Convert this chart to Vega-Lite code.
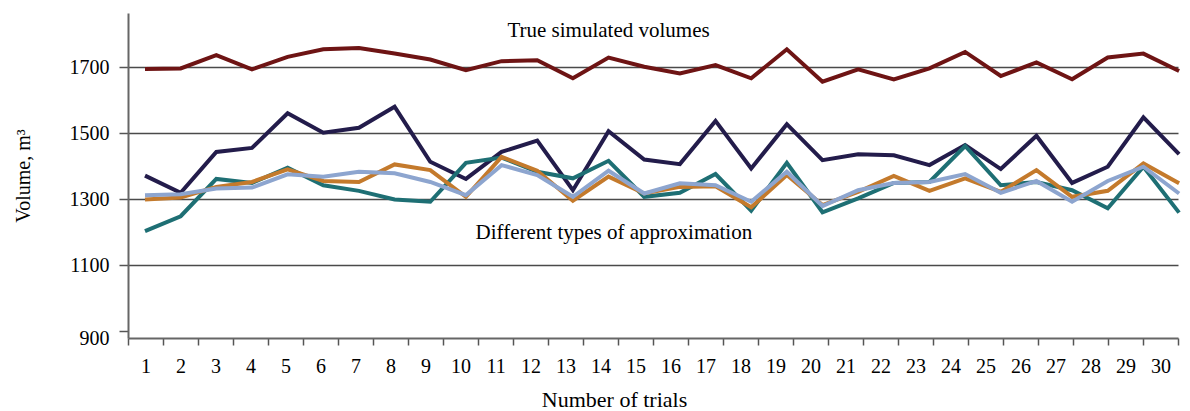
{
  "$schema": "https://vega.github.io/schema/vega-lite/v6.json",
  "width": 1050,
  "height": 325,
  "autosize": {"type": "none"},
  "padding": {"left": 128, "top": 13, "right": 12, "bottom": 73},
  "background": "white",
  "config": {"view": {"stroke": null}, "font": "Liberation Serif"},
  "datasets": {
    "wide": [
      {"trial": 1, "True": 1694, "A1": 1371, "A2": 1203, "A3": 1299, "A4": 1312},
      {"trial": 2, "True": 1696, "A1": 1319, "A2": 1248, "A3": 1305, "A4": 1315},
      {"trial": 3, "True": 1736, "A1": 1443, "A2": 1361, "A3": 1337, "A4": 1332},
      {"trial": 4, "True": 1693, "A1": 1455, "A2": 1349, "A3": 1352, "A4": 1335},
      {"trial": 5, "True": 1731, "A1": 1560, "A2": 1395, "A3": 1390, "A4": 1375},
      {"trial": 6, "True": 1754, "A1": 1501, "A2": 1342, "A3": 1355, "A4": 1368},
      {"trial": 7, "True": 1758, "A1": 1516, "A2": 1325, "A3": 1352, "A4": 1383},
      {"trial": 8, "True": 1741, "A1": 1580, "A2": 1299, "A3": 1405, "A4": 1378},
      {"trial": 9, "True": 1723, "A1": 1413, "A2": 1292, "A3": 1388, "A4": 1352},
      {"trial": 10, "True": 1691, "A1": 1361, "A2": 1410, "A3": 1307, "A4": 1312},
      {"trial": 11, "True": 1718, "A1": 1443, "A2": 1426, "A3": 1428, "A4": 1403},
      {"trial": 12, "True": 1721, "A1": 1477, "A2": 1383, "A3": 1386, "A4": 1373},
      {"trial": 13, "True": 1666, "A1": 1327, "A2": 1363, "A3": 1295, "A4": 1307},
      {"trial": 14, "True": 1729, "A1": 1506, "A2": 1416, "A3": 1368, "A4": 1386},
      {"trial": 15, "True": 1701, "A1": 1420, "A2": 1307, "A3": 1317, "A4": 1317},
      {"trial": 16, "True": 1681, "A1": 1406, "A2": 1319, "A3": 1337, "A4": 1348},
      {"trial": 17, "True": 1706, "A1": 1537, "A2": 1376, "A3": 1339, "A4": 1342},
      {"trial": 18, "True": 1666, "A1": 1393, "A2": 1265, "A3": 1275, "A4": 1292},
      {"trial": 19, "True": 1754, "A1": 1527, "A2": 1410, "A3": 1373, "A4": 1383},
      {"trial": 20, "True": 1656, "A1": 1418, "A2": 1260, "A3": 1282, "A4": 1279},
      {"trial": 21, "True": 1693, "A1": 1436, "A2": 1302, "A3": 1322, "A4": 1327},
      {"trial": 22, "True": 1663, "A1": 1433, "A2": 1349, "A3": 1370, "A4": 1349},
      {"trial": 23, "True": 1696, "A1": 1403, "A2": 1352, "A3": 1325, "A4": 1352},
      {"trial": 24, "True": 1746, "A1": 1464, "A2": 1461, "A3": 1363, "A4": 1376},
      {"trial": 25, "True": 1673, "A1": 1391, "A2": 1342, "A3": 1322, "A4": 1319},
      {"trial": 26, "True": 1714, "A1": 1492, "A2": 1352, "A3": 1388, "A4": 1355},
      {"trial": 27, "True": 1663, "A1": 1349, "A2": 1327, "A3": 1307, "A4": 1292},
      {"trial": 28, "True": 1729, "A1": 1398, "A2": 1272, "A3": 1325, "A4": 1355},
      {"trial": 29, "True": 1741, "A1": 1548, "A2": 1398, "A3": 1408, "A4": 1398},
      {"trial": 30, "True": 1688, "A1": 1436, "A2": 1259, "A3": 1348, "A4": 1317}
    ],
    "notes": [
      {"trial": 14.0, "volume": 1791, "label": "True simulated volumes"},
      {"trial": 14.15, "volume": 1179, "label": "Different types of approximation"}
    ]
  },
  "layer": [
    {
      "data": {"name": "wide"},
      "mark": {"type": "point", "opacity": 0},
      "encoding": {
        "x": {
          "field": "trial",
          "type": "ordinal",
          "scale": {"type": "band", "paddingInner": 0, "paddingOuter": 0},
          "axis": {
            "orient": "bottom",
            "title": "Number of trials",
            "titleFont": "Liberation Serif",
            "titleFontSize": 22,
            "titleFontWeight": "normal",
            "titleColor": "black",
            "titlePadding": 13,
            "titleX": 486,
            "labelAngle": 0,
            "labelFont": "Liberation Serif",
            "labelFontSize": 20,
            "labelColor": "black",
            "labelPadding": 11,
            "tickBand": "extent",
            "tickSize": 7,
            "tickWidth": 1.5,
            "tickColor": "#555555",
            "domainColor": "#666666",
            "domainWidth": 2,
            "grid": false
          }
        }
      }
    },
    {
      "data": {"name": "wide"},
      "transform": [
        {"fold": ["True", "A1", "A2", "A3", "A4"], "as": ["series", "volume"]}
      ],
      "mark": {"type": "line", "strokeWidth": 4, "strokeJoin": "miter"},
      "encoding": {
        "x": {
          "field": "trial",
          "type": "quantitative",
          "scale": {"domain": [0.5233, 29.97], "nice": false, "zero": false},
          "axis": null
        },
        "y": {
          "field": "volume",
          "type": "quantitative",
          "scale": {"domain": [879, 1864], "nice": false, "zero": false},
          "axis": {
            "values": [900, 1100, 1300, 1500, 1700],
            "format": "d",
            "title": "Volume, m³",
            "titleFont": "Liberation Serif",
            "titleFontSize": 20,
            "titleFontWeight": "normal",
            "titleColor": "black",
            "titlePadding": 36,
            "labelFont": "Liberation Serif",
            "labelFontSize": 20,
            "labelColor": "black",
            "labelPadding": 10,
            "labelOffset": {"condition": {"test": "datum.value == 900", "value": 7}, "value": 0},
            "tickSize": 9,
            "tickWidth": 1.5,
            "tickColor": "#555555",
            "domainColor": "#666666",
            "domainWidth": 2,
            "grid": true,
            "gridColor": "#4a4a4a",
            "gridWidth": 1.5,
            "gridOpacity": {"condition": {"test": "datum.value == 900", "value": 0}, "value": 1}
          }
        },
        "color": {
          "field": "series",
          "type": "nominal",
          "scale": {
            "domain": ["True", "A1", "A2", "A3", "A4"],
            "range": ["#6e1414", "#231c4b", "#1e6f74", "#c47a2c", "#8da5cf"]
          },
          "legend": null
        },
        "order": {"field": "trial", "type": "quantitative"}
      }
    },
    {
      "data": {"name": "notes"},
      "mark": {"type": "text", "font": "Liberation Serif", "fontSize": 21, "color": "black", "align": "center", "baseline": "alphabetic"},
      "encoding": {
        "x": {"field": "trial", "type": "quantitative", "scale": {"domain": [0.5233, 29.97], "nice": false, "zero": false}, "axis": null},
        "y": {"field": "volume", "type": "quantitative"},
        "text": {"field": "label"}
      }
    }
  ],
  "resolve": {"scale": {"x": "independent"}, "axis": {"x": "independent"}}
}
